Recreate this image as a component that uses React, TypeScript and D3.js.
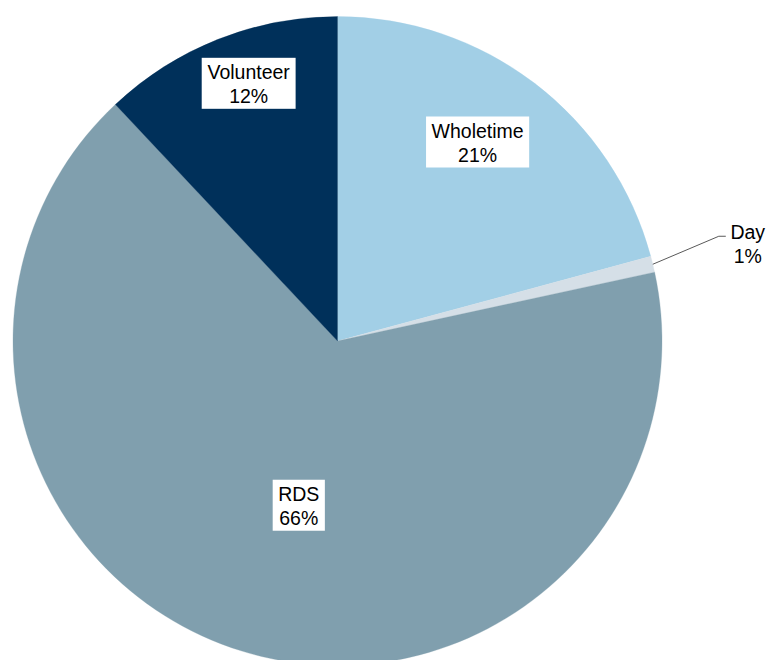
import React, { useEffect, useRef } from "react";
import * as d3 from "d3";

const categories = ["Wholetime", "Day", "RDS", "Volunteer"];
const values = [20.8, 0.8, 66.4, 12.0];
const labels = ["21%", "1%", "66%", "12%"];
const colors = ["#A2CFE6", "#D5DFE7", "#809FAE", "#00305A"];

const W = 766;
const H = 660;
const CX = 337.5;
const CY = 341;
const R = 324.5;
// label placement (style): radius factor and angle offset (radians)
const labelRadius = [0.75, 1.2, 0.52, 0.84];
const labelAngleOff = [-0.04, 0, -0.07, 0.045];

export default function App() {
  const ref = useRef<SVGSVGElement | null>(null);
  useEffect(() => {
    const svg = d3.select(ref.current);
    svg.selectAll("*").remove();
    const data = categories.map((c, i) => ({ c, v: values[i], l: labels[i], i }));
    const pie = d3.pie<any>().sort(null).value((d: any) => d.v);
    const arcs = pie(data);
    const arc = d3.arc<any>().innerRadius(0).outerRadius(R);
    const g = svg.append("g").attr("transform", `translate(${CX},${CY})`);
    g.selectAll("path")
      .data(arcs)
      .enter()
      .append("path")
      .attr("d", arc as any)
      .attr("fill", (d: any) => colors[d.data.i])
      .attr("stroke", (d: any) => colors[d.data.i])
      .attr("stroke-width", 0.3);

    const font = "'Liberation Sans', Arial, sans-serif";
    arcs.forEach((a: any) => {
      const i = a.data.i;
      const mid = (a.startAngle + a.endAngle) / 2 + labelAngleOff[i];
      if (a.data.c === "Day") {
        const p0 = [Math.sin(mid) * R, -Math.cos(mid) * R];
        const p1 = [p0[0] + 66, p0[1] - 28];
        const p2 = [p1[0] + 7, p1[1]];
        g.append("polyline")
          .attr("points", [p0, p1, p2].map((p) => p.join(",")).join(" "))
          .attr("fill", "none")
          .attr("stroke", "#595959")
          .attr("stroke-width", 1);
        const tx = p2[0] + 22;
        const t = g.append("text")
          .attr("font-family", font)
          .attr("font-size", 19.5)
          .attr("fill", "#000")
          .attr("text-anchor", "middle");
        t.append("tspan").attr("x", tx).attr("y", p2[1] + 2.5).text(a.data.c);
        t.append("tspan").attr("x", tx).attr("y", p2[1] + 26.5).text(a.data.l);
        return;
      }
      const r = R * labelRadius[i];
      const x = Math.sin(mid) * r;
      const y = -Math.cos(mid) * r;
      const lg = g.append("g");
      const rect = lg.append("rect").attr("fill", "#ffffff");
      const t = lg.append("text")
        .attr("font-family", font)
        .attr("font-size", 19.5)
        .attr("fill", "#000")
        .attr("text-anchor", "middle");
      t.append("tspan").attr("x", x).attr("y", y - 4.5).text(a.data.c);
      t.append("tspan").attr("x", x).attr("y", y + 19.5).text(a.data.l);
      const bb = (t.node() as SVGTextElement).getBBox();
      const bw = bb.width + 11;
      const bh = 51;
      rect.attr("x", x - bw / 2).attr("y", y - bh / 2).attr("width", bw).attr("height", bh);
    });
  }, []);
  return (
    <svg
      ref={ref}
      width={W}
      height={H}
      style={{ position: "absolute", left: 0, top: 0, background: "#fff" }}
    />
  );
}
